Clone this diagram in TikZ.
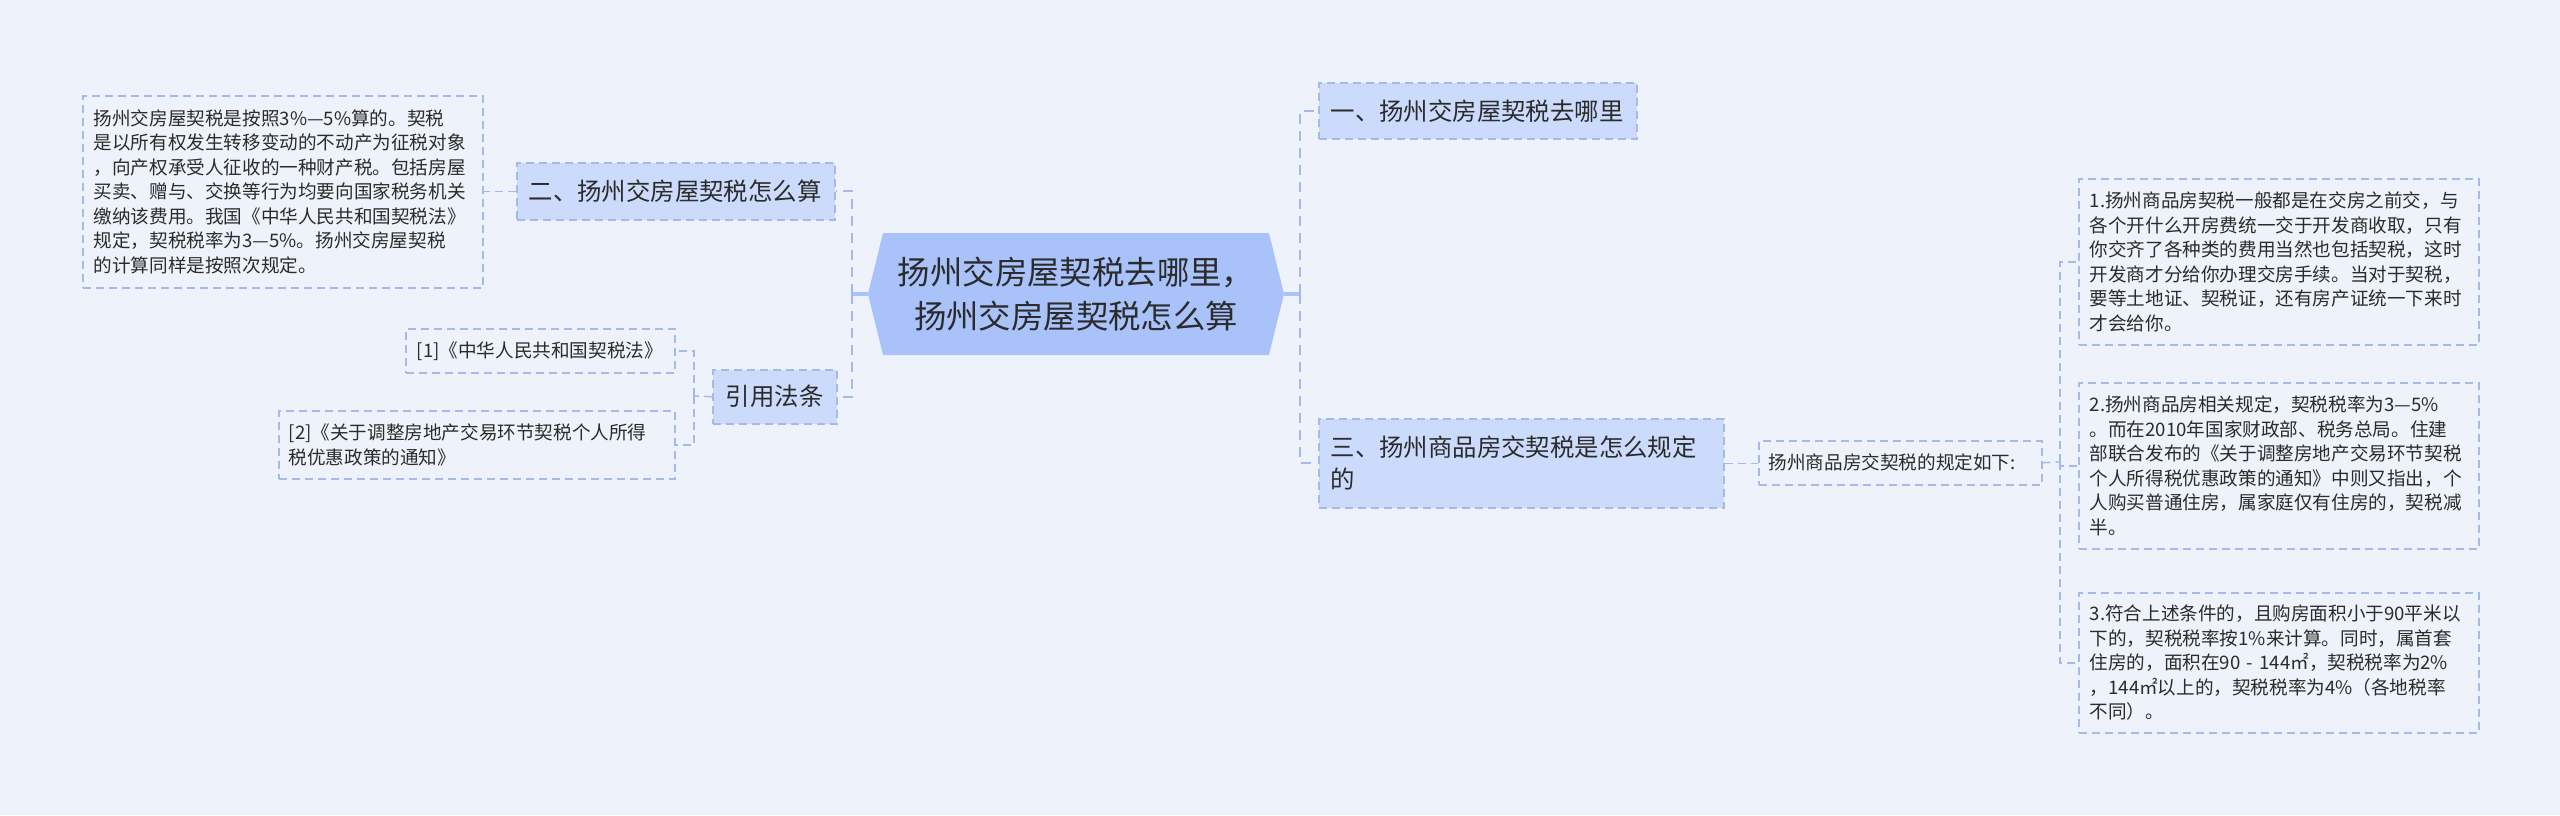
\documentclass[tikz,border=0pt]{standalone}
\usepackage{fontspec}
\setmainfont{Noto Sans CJK SC}
\definecolor{bgc}{HTML}{EEF3FB}
\definecolor{lvl}{HTML}{CCDBFB}
\definecolor{ctr}{HTML}{A9C3FA}
\definecolor{lnc}{HTML}{A6BAE8}
\definecolor{txt}{HTML}{2B2B2B}
\newcommand\leaffont{\fontsize{9.3pt}{12.25pt}\selectfont}
\newcommand\lvfont{\fontsize{12.2pt}{16pt}\selectfont}
\newcommand\ctrfont{\fontsize{16.2pt}{22pt}\selectfont}
\begin{document}
\begin{tikzpicture}[x=0.5pt,y=-0.5pt,
  leafbox/.style={draw=lnc, line width=0.75pt, dash pattern=on 4pt off 2.5pt,
    align=left, inner sep=0pt, font=\leaffont, text=txt, anchor=north west},
  lvbox/.style={leafbox, fill=lvl, font=\lvfont},
  conn/.style={draw=lnc, line width=0.75pt, dash pattern=on 4pt off 2.5pt},
  trunk/.style={draw=lnc, line width=1.2pt, dash pattern=on 5pt off 3.5pt},
  hub/.style={draw=ctr, line width=1.6pt}]
\fill[bgc] (0,0) rectangle (2560,815);
\useasboundingbox (0,0) rectangle (2560,815);

% central
\node[inner sep=0pt, minimum width=208pt, minimum height=61pt, align=center,
  font=\ctrfont, text=txt,
  path picture={\fill[ctr] ([xshift=7.5pt]path picture bounding box.north west)
    -- ([xshift=-7.5pt]path picture bounding box.north east)
    -- (path picture bounding box.east)
    -- ([xshift=-7.5pt]path picture bounding box.south east)
    -- ([xshift=7.5pt]path picture bounding box.south west)
    -- (path picture bounding box.west) -- cycle;}]
  (c) at (1076,294) {扬州交房屋契税去哪里，\\扬州交房屋契税怎么算};

% left side
\node[leafbox, minimum width=200pt, minimum height=96pt, text width=189pt] (box1) at (82,95)
 {扬州交房屋契税是按照3\%—5\%算的。契税\\是以所有权发生转移变动的不动产为征税对象\\，向产权承受人征收的一种财产税。包括房屋\\买卖、赠与、交换等行为均要向国家税务机关\\缴纳该费用。我国《中华人民共和国契税法》\\规定，契税税率为3—5\%。扬州交房屋契税\\的计算同样是按照次规定。};
\node[lvbox, minimum width=159pt, minimum height=28.5pt, text width=147pt] (b2) at (516,162)
 {二、扬州交房屋契税怎么算};
\node[lvbox, minimum width=62pt, minimum height=27pt, text width=50pt, align=center] (cite) at (712,369)
 {引用法条};
\node[leafbox, minimum width=134.5pt, minimum height=22pt, text width=123.5pt] (law1) at (405,328)
 {[1]《中华人民共和国契税法》};
\node[leafbox, minimum width=198pt, minimum height=34pt, text width=188pt] (law2) at (278,410)
 {[2]《关于调整房地产交易环节契税个人所得\\税优惠政策的通知》};

% right side
\node[lvbox, minimum width=159pt, minimum height=28pt, text width=147pt] (one) at (1318,82)
 {一、扬州交房屋契税去哪里};
\node[lvbox, minimum width=202.5pt, minimum height=44.5pt, text width=190.5pt] (three) at (1318,418)
 {三、扬州商品房交契税是怎么规定\\的};
\node[leafbox, minimum width=141.5pt, minimum height=22pt, text width=131.5pt] (rule) at (1758,440)
 {扬州商品房交契税的规定如下:};
\node[leafbox, minimum width=200pt, minimum height=83pt, text width=189pt] (ra) at (2078,178)
 {1.扬州商品房契税一般都是在交房之前交，与\\各个开什么开房费统一交于开发商收取，只有\\你交齐了各种类的费用当然也包括契税，这时\\开发商才分给你办理交房手续。当对于契税，\\要等土地证、契税证，还有房产证统一下来时\\才会给你。};
\node[leafbox, minimum width=200pt, minimum height=83pt, text width=189pt] (rb) at (2078,382)
 {2.扬州商品房相关规定，契税税率为3—5\%\\。而在2010年国家财政部、税务总局。住建\\部联合发布的《关于调整房地产交易环节契税\\个人所得税优惠政策的通知》中则又指出，个\\人购买普通住房，属家庭仅有住房的，契税减\\半。};
\node[leafbox, minimum width=200pt, minimum height=70pt, text width=189pt] (rc) at (2078,592)
 {3.符合上述条件的，且购房面积小于90平米以\\下的，契税税率按1\%来计算。同时，属首套\\住房的，面积在90 - 144㎡，契税税率为2\%\\，144㎡以上的，契税税率为4\%（各地税率\\不同）。};

% connectors
\coordinate (tl) at (852,294);
\coordinate (tr) at (1300,294);
\coordinate (tc) at (694,396);
\coordinate (tq) at (2060,462);
\draw[hub] (c.west) -- (tl);
\draw[hub] (c.east) -- (tr);
\draw[trunk] (tl) |- (b2.east);
\draw[trunk] (tl) |- (cite.east);
\draw[trunk] (tr) |- (one.west);
\draw[trunk] (tr) |- (three.west);
\draw[conn] (b2.west) -- (b2.west -| box1.east);
\draw[conn] (cite.west) -- (tc);
\draw[conn] (tc) |- (law1.east);
\draw[conn] (tc) |- (law2.east);
\draw[conn] (three.east) -- (three.east -| rule.west);
\draw[conn] (rule.east) -- (tq);
\draw[conn] (tq) |- (ra.west);
\draw[conn] (tq) |- (rb.west);
\draw[conn] (tq) |- (rc.west);
\end{tikzpicture}
\end{document}
